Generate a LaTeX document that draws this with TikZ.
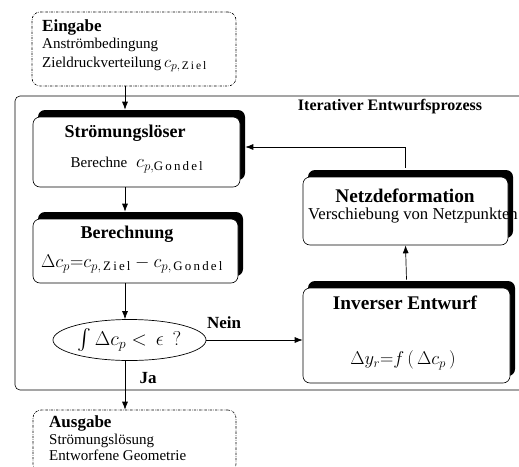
\RequirePackage{fix-cm}
\documentclass[tikz,border=0pt]{standalone}
\usepackage{amsmath}
\usepackage{fontspec}
\setmainfont{Liberation Serif}
\usetikzlibrary{arrows.meta,shapes.geometric,shadows,calc}

\newcommand{\lsp}[1]{\mathrm{#1}}

\tikzset{
  stepbox/.style={draw, rectangle, rounded corners=7pt, fill=white, line width=0.6pt,
    drop shadow={shadow xshift=5pt, shadow yshift=7pt, fill=black, opacity=1}},
  iobox/.style={draw, rectangle, rounded corners=8pt, line width=0.6pt,
    dash pattern=on 2.4pt off 1.2pt on 0.5pt off 1.2pt},
  decision/.style={draw, ellipse, line width=0.7pt, inner sep=0pt},
  boxtitle/.style={font=\fontsize{18}{20}\selectfont\bfseries},
  bigtitle/.style={font=\fontsize{19.3}{22}\selectfont\bfseries},
  boxtext/.style={font=\fontsize{15}{18}\selectfont},
  mathtext/.style={font=\fontsize{18.5}{22}\selectfont},
  arr/.style={-{Latex[length=8pt,width=6pt]}, line width=0.7pt},
}

\begin{document}
\begin{tikzpicture}[x=1pt,y=-1pt]
\useasboundingbox (0,0) rectangle (519,466);
\coordinate (axis) at (125,0);

% Iterativer Rahmen
\draw[rounded corners=5pt, line width=0.6pt] (15,96) rectangle (540,390);
\node[font=\fontsize{16}{18}\selectfont\bfseries] (itertitle) at (390,107) {Iterativer Entwurfsprozess};

% Eingabe / Ausgabe
\node[iobox, minimum width=204pt, minimum height=74pt] (ein) at (134,49) {};
\node[anchor=base west, inner sep=0pt, font=\fontsize{17}{20}\selectfont\bfseries] (eintitle) at (42,31) {Eingabe};
\node[anchor=base west, inner sep=0pt, boxtext] (ein1) at (42,48) {Anströmbedingung};
\node[anchor=base west, inner sep=0pt, boxtext] (ein2) at (42,67) {Zieldruckverteilung{\fontsize{16.5}{18}\selectfont$\,c_{p,\,\lsp{Z\,i\,e\,l}}$}};

\node[iobox, minimum width=203pt, minimum height=62pt] (aus) at (134.5,441) {};
\node[anchor=base west, inner sep=0pt, font=\fontsize{17}{20}\selectfont\bfseries] (austitle) at (49,427) {Ausgabe};
\node[anchor=base west, inner sep=0pt, boxtext] (aus1) at (49,444) {Strömungslösung};
\node[anchor=base west, inner sep=0pt, boxtext] (aus2) at (49,460) {Entworfene Geometrie};

% Schritte
\node[stepbox, minimum width=207pt, minimum height=70pt] (str) at (136.5,152) {};
\node[boxtitle] (strtitle) at (125,133) {Strömungslöser};
\node[boxtext] (strtext) at (137,165) {Berechne {\fontsize{18.5}{22}\selectfont$\;c_{p,\lsp{G\,o\,n\,d\,e\,l}}$}};

\node[stepbox, minimum width=205pt, minimum height=64pt] (ber) at (135.5,251) {};
\node[boxtitle] (bertitle) at (127,234) {Berechnung};
\node[mathtext] (bertext) at (132,264) {$\Delta c_p{=}c_{p,\,\lsp{Z\,i\,e\,l}}-c_{p,\,\lsp{G\,o\,n\,d\,e\,l}}$};

\node[decision, minimum width=153pt, minimum height=41pt, font=\fontsize{20}{24}\selectfont] (test) at (129.5,340) {$\int\Delta c_p<\,\epsilon\;\,?$};

\node[stepbox, minimum width=207pt, minimum height=95pt] (inv) at (406.5,335.5) {};
\node[bigtitle] (invtitle) at (405,303) {Inverser Entwurf};
\node[mathtext] (invtext) at (403,360) {$\Delta y_r{=}f\,(\,\Delta c_p\,)$};

\node[stepbox, minimum width=205pt, minimum height=68pt] (netz) at (405.5,211) {};
\node[bigtitle] (netztitle) at (405,196) {Netzdeformation};
\node[font=\fontsize{16.7}{18}\selectfont, anchor=west, inner sep=0pt] (netztext) at (308,216) {Verschiebung von Netzpunkten};

% Verbindungen
\draw[arr] (ein.south -| axis) -- ($(str.north -| axis)+(0,-7)$);
\draw[arr] (str.south -| axis) -- ($(ber.north -| axis)+(0,-7)$);
\draw[arr] (ber.south -| axis) -- (test.north -| axis);
\draw[arr] (test.east) -- (test.east -| inv.west);
\draw[arr] ($(inv.north)+(0,-8)$) -- (netz.north |- netz.south);
\draw[arr] ($(netz.north)+(0,-9)$) |- ($(str.east)+(5,-5)$);
\draw[arr] (test.south -| axis) -- (aus.north -| axis);

\node[font=\fontsize{17}{20}\selectfont\bfseries] (nein) at (224,323) {Nein};
\node[font=\fontsize{17}{20}\selectfont\bfseries] (ja) at (148,378) {Ja};
\end{tikzpicture}
\end{document}
